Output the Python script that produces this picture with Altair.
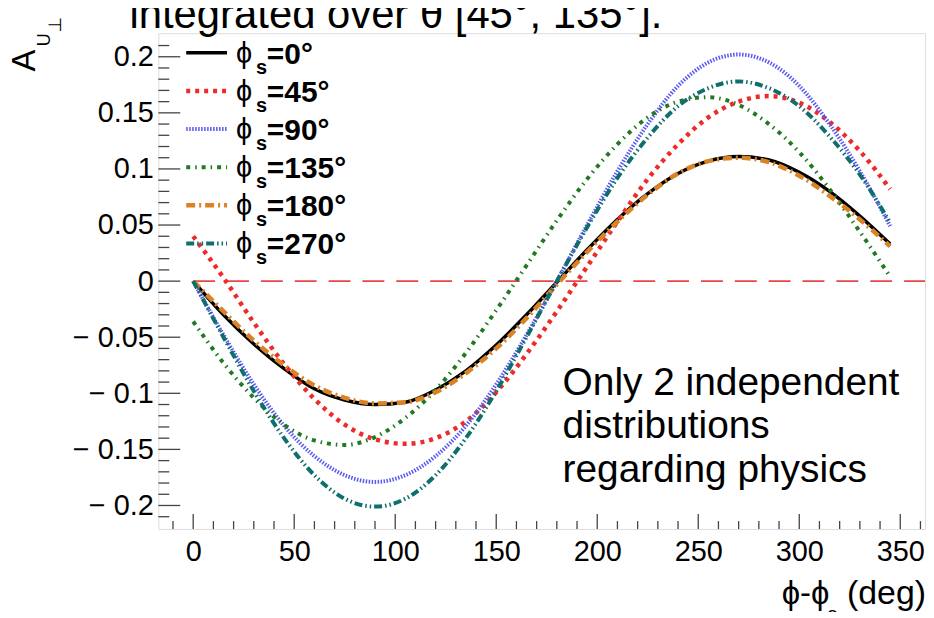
import altair as alt
import pandas as pd

FONT = "Liberation Sans"

# ---------------- data ----------------
deg = [0, 15, 30, 45, 60, 75, 90, 105, 120, 135, 150, 165,
       180, 195, 210, 225, 240, 255, 270, 285, 300, 315, 330, 345]

a_phis0 = [0.0, -0.030, -0.056, -0.078, -0.096, -0.106, -0.110, -0.108, -0.097, -0.080, -0.057, -0.030,
           -0.001, 0.028, 0.055, 0.078, 0.096, 0.107, 0.111, 0.108, 0.097, 0.080, 0.058, 0.033]
a_phis45 = [0.040, 0.003, -0.037, -0.074, -0.105, -0.128, -0.141, -0.145, -0.140, -0.125, -0.099, -0.065,
            -0.027, 0.013, 0.053, 0.091, 0.122, 0.146, 0.160, 0.165, 0.159, 0.142, 0.116, 0.082]
a_phis90 = [0.0, -0.048, -0.092, -0.129, -0.156, -0.173, -0.179, -0.173, -0.156, -0.129, -0.092, -0.048,
            0.0, 0.050, 0.098, 0.140, 0.174, 0.195, 0.202, 0.195, 0.174, 0.140, 0.098, 0.049]
a_phis135 = [-0.036, -0.073, -0.104, -0.128, -0.142, -0.146, -0.139, -0.122, -0.097, -0.064, -0.026, 0.014,
             0.054, 0.091, 0.122, 0.146, 0.160, 0.164, 0.157, 0.140, 0.115, 0.082, 0.044, 0.004]
a_phis180 = [0.0, -0.027, -0.053, -0.075, -0.093, -0.104, -0.109, -0.108, -0.099, -0.082, -0.060, -0.033,
             -0.003, 0.026, 0.053, 0.077, 0.096, 0.107, 0.110, 0.106, 0.094, 0.076, 0.055, 0.031]
a_phis270 = [0.0, -0.050, -0.098, -0.140, -0.173, -0.194, -0.201, -0.194, -0.173, -0.140, -0.098, -0.050,
             0.0, 0.048, 0.092, 0.128, 0.156, 0.172, 0.178, 0.172, 0.156, 0.129, 0.095, 0.052]

series_labels = ["=0°", "=45°", "=90°", "=135°", "=180°", "=270°"]
series_values = [a_phis0, a_phis45, a_phis90, a_phis135, a_phis180, a_phis270]

x_tick_values = [0, 50, 100, 150, 200, 250, 300, 350]
y_tick_values = [-0.2, -0.15, -0.1, -0.05, 0, 0.05, 0.1, 0.15, 0.2]

title_text = "integrated over θ [45°, 135°]."
note_lines = ["Only 2 independent", "distributions", "regarding physics"]

# ---------------- styles ----------------
colors = ["#000000", "#ee2a2a", "#5a5af0", "#217a21", "#d98325", "#0f6e6e"]
dashes = [None, [4, 5], [1.5, 1.5], [4, 5, 1.5, 5], [9, 4, 2, 4], [8, 3, 1.5, 3, 1.5, 3]]
widths = [3.5, 4.5, 4, 4, 4.5, 4]

W, H = 770, 498
xs = alt.Scale(domain=[-17.25, 362.25], nice=False, zero=False)
ys = alt.Scale(domain=[-0.221, 0.221], nice=False, zero=False)

x_axis = alt.Axis(values=x_tick_values, domain=False, ticks=False, grid=False,
                  labelFont=FONT, labelFontSize=29, labelColor="black",
                  labelPadding=9, title=None)
y_axis = alt.Axis(values=y_tick_values, domain=False, ticks=False, grid=False,
                  labelFont=FONT, labelFontSize=29, labelColor="black",
                  labelPadding=5, title=None,
                  labelExpr="datum.value < 0 ? '− ' + format(-datum.value, '~g') : format(datum.value, '~g')")


def X(field):
    return alt.X(field, type="quantitative", scale=xs, axis=x_axis)


def Y(field):
    return alt.Y(field, type="quantitative", scale=ys, axis=y_axis)


one = pd.DataFrame({"k": [0]})
layers = []

# inward tick marks (ROOT style)
ymaj = pd.DataFrame({"v": y_tick_values})
ymin = pd.DataFrame({"v": [round(i * 0.01, 2) for i in range(-21, 22) if i % 5 != 0]})
xmaj = pd.DataFrame({"v": x_tick_values})
xmin = pd.DataFrame({"v": [i * 10 for i in range(-1, 37) if i % 5 != 0]})
TC = "#444444"
layers.append(alt.Chart(ymaj).mark_rule(color=TC, strokeWidth=1.3).encode(
    y=Y("v"), x=alt.value(0), x2=alt.value(22)))
layers.append(alt.Chart(ymin).mark_rule(color=TC, strokeWidth=1.3).encode(
    y=Y("v"), x=alt.value(0), x2=alt.value(11)))
layers.append(alt.Chart(xmaj).mark_rule(color=TC, strokeWidth=1.3).encode(
    x=X("v"), y=alt.value(H), y2=alt.value(H - 15)))
layers.append(alt.Chart(xmin).mark_rule(color=TC, strokeWidth=1.3).encode(
    x=X("v"), y=alt.value(H), y2=alt.value(H - 8)))

# zero line
layers.append(alt.Chart(one).mark_rule(color="#e8474a", strokeWidth=2, strokeDash=[22, 12]).encode(
    x=alt.datum(0, scale=xs, axis=x_axis, type="quantitative"), x2=alt.value(W),
    y=alt.datum(0, scale=ys, axis=y_axis, type="quantitative")))

# curves
for i, vals in enumerate(series_values):
    df = pd.DataFrame({"deg": deg, "A": vals})
    kw = dict(color=colors[i], strokeWidth=widths[i], interpolate="monotone", clip=True)
    if dashes[i] is not None:
        kw["strokeDash"] = dashes[i]
    layers.append(alt.Chart(df).mark_line(**kw).encode(x=X("deg"), y=Y("A")))

# legend (manual, ROOT-like)
row0, drow = 19.7, 38.3
for i in range(6):
    ry = row0 + drow * i
    kw = dict(color=colors[i], strokeWidth=widths[i])
    if dashes[i] is not None:
        kw["strokeDash"] = dashes[i]
    layers.append(alt.Chart(one).mark_rule(**kw).encode(
        x=alt.value(28), x2=alt.value(69), y=alt.value(ry)))
    layers.append(alt.Chart(one).mark_text(text="ϕ", font=FONT, fontSize=29, align="left",
                                           baseline="alphabetic", color="black").encode(
        x=alt.value(78), y=alt.value(ry + 10)))
    layers.append(alt.Chart(one).mark_text(text="s", font=FONT, fontSize=20, fontWeight="bold",
                                           align="left", baseline="alphabetic", color="black").encode(
        x=alt.value(98), y=alt.value(ry + 21)))
    layers.append(alt.Chart(one).mark_text(text=series_labels[i], font=FONT, fontSize=30,
                                           fontWeight="bold", align="left", baseline="alphabetic",
                                           color="black").encode(
        x=alt.value(109), y=alt.value(ry + 11)))

# annotation
for j, line in enumerate(note_lines):
    layers.append(alt.Chart(one).mark_text(text=line, font=FONT, fontSize=39, align="left",
                                           baseline="alphabetic", color="black").encode(
        x=alt.value(406), y=alt.value(363 + 44 * j)))

# title (partially cut at top, as in the original)
layers.append(alt.Chart(one).mark_text(text=title_text, font=FONT, fontSize=42, align="left",
                                       baseline="alphabetic", color="black").encode(
    x=alt.value(-29), y=alt.value(-5)))

# y axis title  A_{U⊥}
layers.append(alt.Chart(one).mark_text(text="A", font=FONT, fontSize=33, angle=270, align="center",
                                       baseline="alphabetic", color="black").encode(
    x=alt.value(-124), y=alt.value(27.5)))
layers.append(alt.Chart(one).mark_text(text="U", font=FONT, fontSize=18, angle=270, align="center",
                                       baseline="alphabetic", color="black").encode(
    x=alt.value(-109), y=alt.value(6.5)))
layers.append(alt.Chart(one).mark_text(text="⊥", font="DejaVu Sans", fontSize=18, angle=270,
                                       align="center", baseline="alphabetic", color="black").encode(
    x=alt.value(-98), y=alt.value(-8.5)))

# x axis title  ϕ-ϕ_s (deg)
layers.append(alt.Chart(one).mark_text(text="ϕ-ϕ", font=FONT, fontSize=33, align="right",
                                       baseline="alphabetic", color="black").encode(
    x=alt.value(674), y=alt.value(573)))
layers.append(alt.Chart(one).mark_text(text="s", font=FONT, fontSize=20, align="left",
                                       baseline="alphabetic", color="black").encode(
    x=alt.value(672), y=alt.value(590)))
layers.append(alt.Chart(one).mark_text(text="(deg)", font=FONT, fontSize=34, align="right",
                                       baseline="alphabetic", color="black").encode(
    x=alt.value(771), y=alt.value(573)))

chart = alt.layer(*layers).properties(
    width=W, height=H,
    autosize=alt.AutoSizeParams(type="none"),
    padding={"left": 151, "top": 24, "right": 1, "bottom": 82},
).configure_view(stroke="#555555", strokeWidth=1.6).configure(background="white")

chart.save("out.html", embed_options={"renderer": "svg", "actions": False})
